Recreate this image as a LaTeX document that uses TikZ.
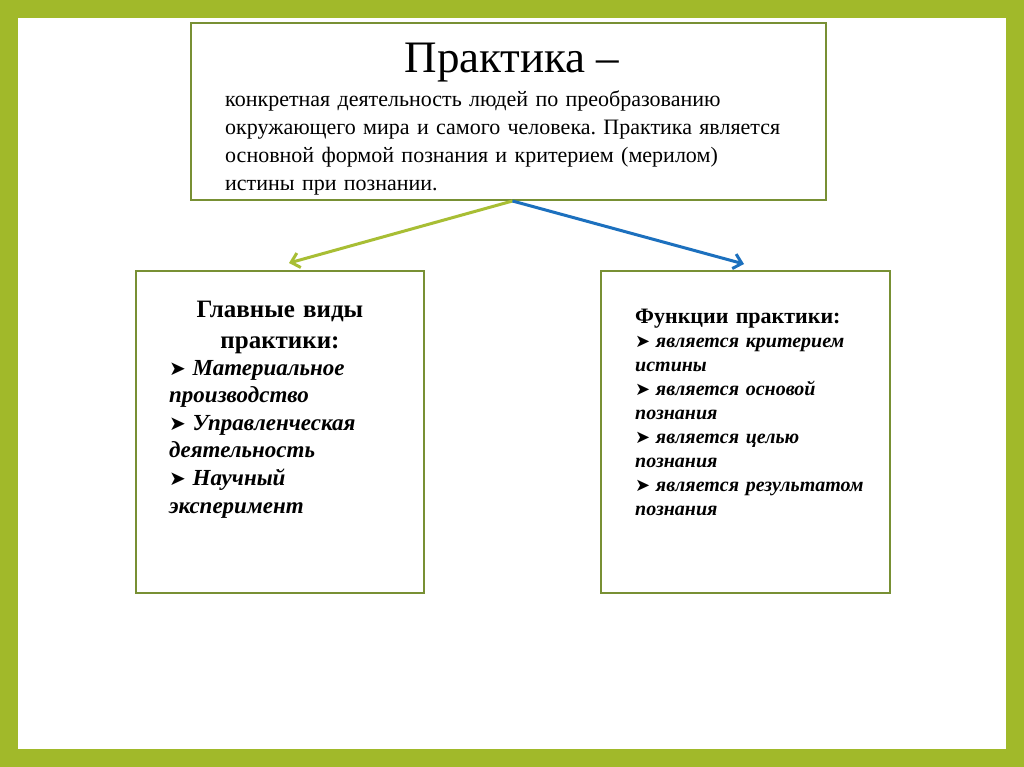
\documentclass[tikz,border=0pt]{standalone}
\usepackage{fontspec}
\setmainfont{Liberation Serif}
\newfontfamily\symfont{DejaVu Sans}
\usetikzlibrary{arrows.meta}
\definecolor{framegreen}{RGB}{161,185,42}
\definecolor{boxgreen}{RGB}{120,144,52}
\definecolor{arrgreen}{RGB}{168,190,52}
\definecolor{arrblue}{RGB}{28,112,190}
\newcommand\bulmark[1]{{\symfont\fontsize{#1}{#1}\selectfont ➤}}
\frenchspacing
\begin{document}
\begin{tikzpicture}[x=1pt,y=-1pt,
  box/.style={draw=boxgreen,line width=2pt,fill=white,inner sep=0pt,anchor=north west},
  txt/.style={inner sep=0pt,align=left},
  conn/.style={line width=3pt,-{Straight Barb[length=8pt,width=15pt,line width=3pt]}}]
\fill[framegreen] (0,0) rectangle (1024,767);
\fill[white] (18,18) rectangle (1006,749);
\useasboundingbox (0,0) rectangle (1024,767);
% boxes
\node[box,minimum width=635pt,minimum height=177pt] (topbox) at (190,22) {};
\node[box,minimum width=288pt,minimum height=322pt] (leftbox) at (135,270) {};
\node[box,minimum width=289pt,minimum height=322pt] (rightbox) at (600,270) {};
% top box text
\node[inner sep=0pt,anchor=base,font=\fontsize{45}{50}\selectfont] (title) at (512,73) {Практика –};
\node[txt,anchor=base west,text width=600pt,font=\fontsize{22}{27.7}\selectfont] (deftext) at (225,107)
  {конкретная деятельность людей по преобразованию\\
   окружающего мира и самого человека. Практика является\\
   основной формой познания и критерием (мерилом)\\
   истины при познании.};
% left box text
\node[txt,anchor=base,align=center,text width=250pt,font=\bfseries\fontsize{25}{31}\selectfont] (lhead) at (280,317)
  {Главные виды\\практики:};
\node[txt,anchor=base west,text width=250pt,font=\bfseries\itshape\fontsize{23}{27.6}\selectfont] (llist) at (169,375)
  {\bulmark{20}\hspace{-1pt} Материальное\\
   производство\\
   \bulmark{20}\hspace{-1pt} Управленческая\\
   деятельность\\
   \bulmark{20}\hspace{-1pt} Научный\\
   эксперимент};
% right box text
\node[txt,anchor=base west,text width=270pt,font=\bfseries\itshape\fontsize{20}{24.1}\selectfont] (rlist) at (635,347)
  {\bulmark{18}\hspace{-1pt} является критерием\\
   истины\\
   \bulmark{18}\hspace{-1pt} является основой\\
   познания\\
   \bulmark{18}\hspace{-1pt} является целью\\
   познания\\
   \bulmark{18}\hspace{-1pt} является результатом\\
   познания};
\node[txt,anchor=base west,text width=270pt,font=\bfseries\fontsize{22}{24}\selectfont] (rhead) at (635,323)
  {Функции практики:};
% connectors
\coordinate (start) at ([xshift=4pt]topbox.south);
\coordinate (lend) at (289,263);
\coordinate (rend) at (744,264);
\draw[conn,arrgreen] (start) -- (lend);
\draw[conn,arrblue] (start) -- (rend);
\end{tikzpicture}
\end{document}
